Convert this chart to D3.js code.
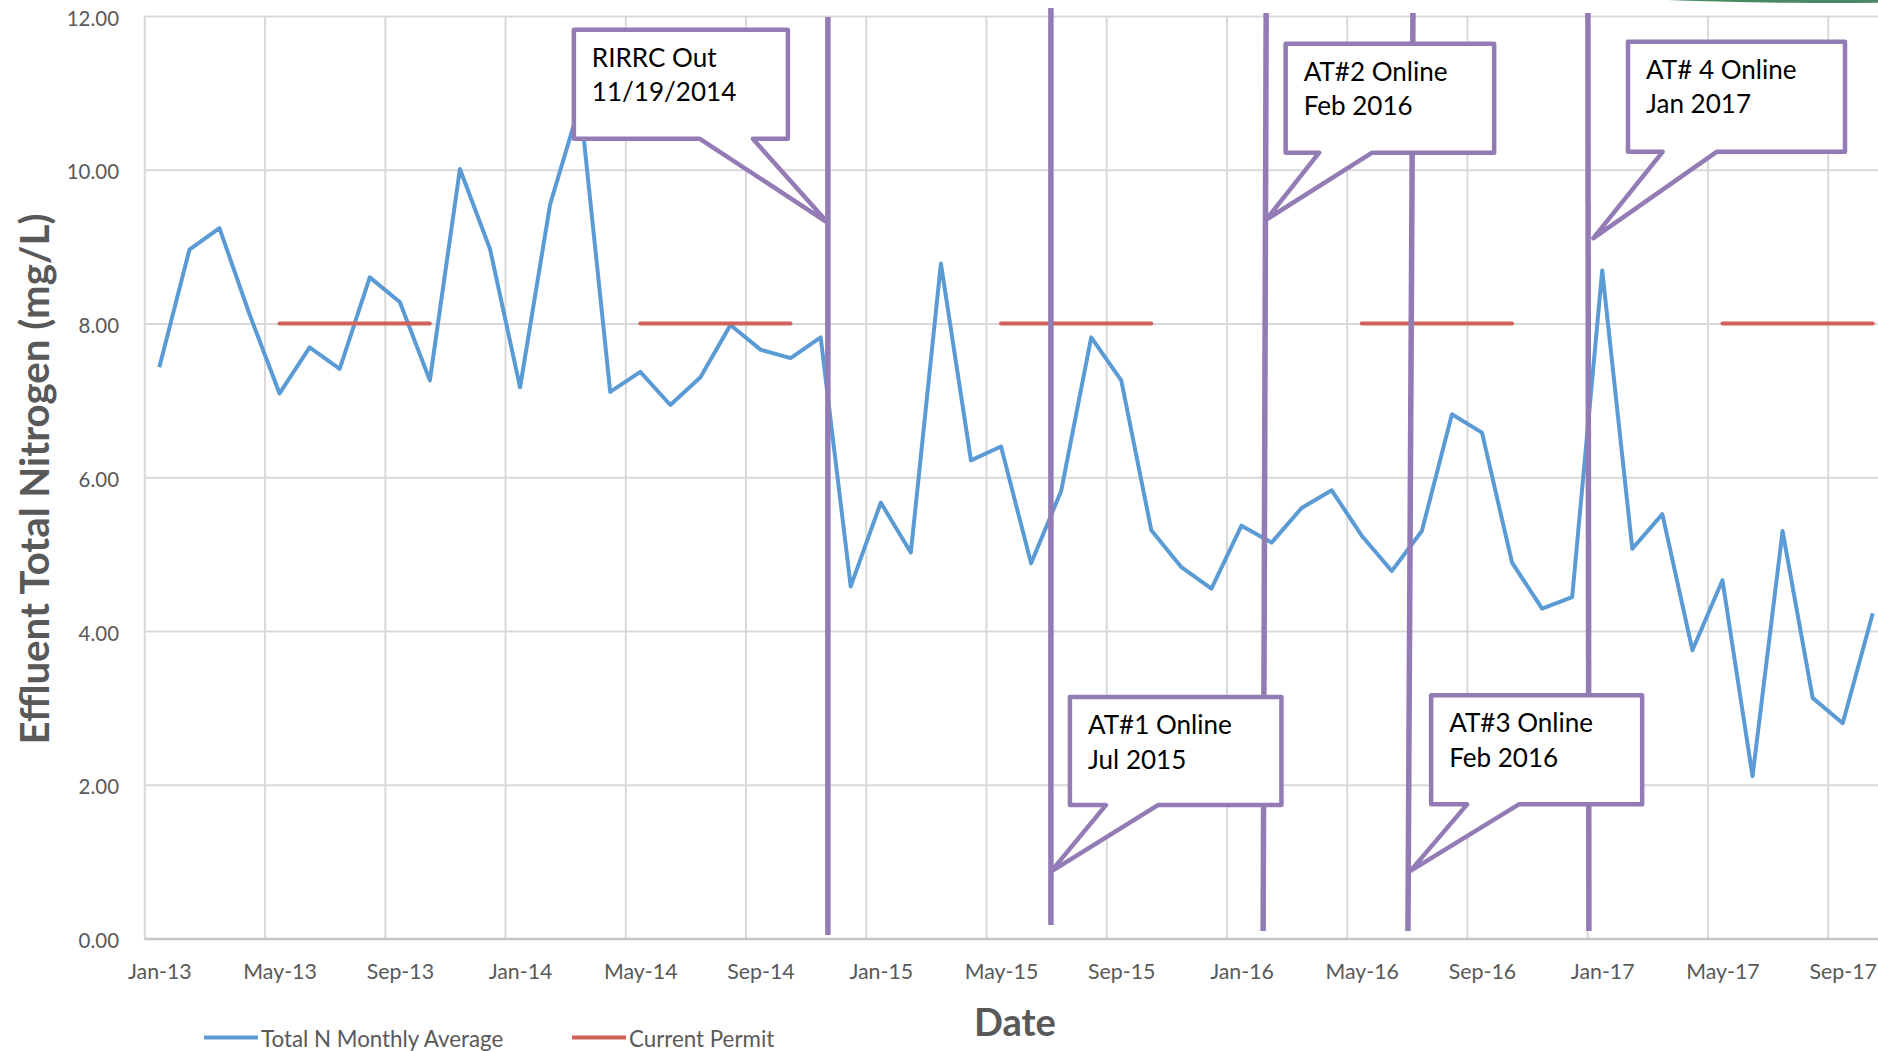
<!DOCTYPE html>
<html>
<head>
<meta charset="utf-8">
<script src="https://cdn.jsdelivr.net/npm/d3@7"></script>
<style>
  html, body { margin: 0; padding: 0; background: #ffffff; }
  svg { display: block; }
</style>
</head>
<body>
<svg id="chart" width="1878" height="1051"></svg>
<script>
// ---- data -------------------------------------------------------------
const months = [
  "Jan-13","Feb-13","Mar-13","Apr-13","May-13","Jun-13","Jul-13","Aug-13","Sep-13","Oct-13","Nov-13","Dec-13",
  "Jan-14","Feb-14","Mar-14","Apr-14","May-14","Jun-14","Jul-14","Aug-14","Sep-14","Oct-14","Nov-14","Dec-14",
  "Jan-15","Feb-15","Mar-15","Apr-15","May-15","Jun-15","Jul-15","Aug-15","Sep-15","Oct-15","Nov-15","Dec-15",
  "Jan-16","Feb-16","Mar-16","Apr-16","May-16","Jun-16","Jul-16","Aug-16","Sep-16","Oct-16","Nov-16","Dec-16",
  "Jan-17","Feb-17","Mar-17","Apr-17","May-17","Jun-17","Jul-17","Aug-17","Sep-17","Oct-17"
];

// Total N monthly average (mg/L)
const totalN = [
  7.43, 8.96, 9.24, 8.12, 7.09, 7.69, 7.41, 8.60, 8.28, 7.26, 10.01, 8.97,
  7.17, 9.55, 10.86, 7.11, 7.37, 6.94, 7.30, 7.98, 7.66, 7.55, 7.82, 4.58,
  5.67, 5.02, 8.78, 6.22, 6.40, 4.88, 5.82, 7.82, 7.26, 5.31, 4.83, 4.55,
  5.37, 5.15, 5.60, 5.83, 5.24, 4.78, 5.30, 6.82, 6.58, 4.89, 4.29, 4.44,
  8.69, 5.07, 5.52, 3.75, 4.66, 2.11, 5.30, 3.13, 2.80, 4.23
];

// Current permit limit (May - October)
const permit = [
  null, null, null, null, 8, 8, 8, 8, 8, 8, null, null,
  null, null, null, null, 8, 8, 8, 8, 8, 8, null, null,
  null, null, null, null, 8, 8, 8, 8, 8, 8, null, null,
  null, null, null, null, 8, 8, 8, 8, 8, 8, null, null,
  null, null, null, null, 8, 8, 8, 8, 8, 8
];

const seriesNames = ["Total N Monthly Average", "Current Permit"];

const xTickIndex  = [0, 4, 8, 12, 16, 20, 24, 28, 32, 36, 40, 44, 48, 52, 56];
const xTickLabels = ["Jan-13","May-13","Sep-13","Jan-14","May-14","Sep-14","Jan-15",
                     "May-15","Sep-15","Jan-16","May-16","Sep-16","Jan-17","May-17","Sep-17"];
const yTicks = [0, 2, 4, 6, 8, 10, 12];

// Milestones: position in months from Jan-13, and the value the callout points at
const eventLabels = [
  ["RIRRC Out", "11/19/2014"],
  ["AT#1 Online", "Jul 2015"],
  ["AT#2 Online", "Feb 2016"],
  ["AT#3 Online", "Feb 2016"],
  ["AT# 4 Online", "Jan 2017"]
];
const eventMonth   = [22.24, 29.66, 36.77, 41.62, 47.54];
const eventPointer = [9.31, 0.87, 9.35, 0.88, 9.11];

// ---- layout -----------------------------------------------------------
const W = 1878, H = 1051;
const plotLeft = 144.3, plotRight = 1887.8;   // last month bin runs past the edge
const plotTop = 16, plotBottom = 938.5;

const C = {
  blue: "#5b9bd5",
  red: "#d0625a",
  purple: "#937bb5",
  grid: "#d9d9d9",
  axis: "#c6c6c6",
  text: "#595959"
};
const FONT = "Lato, 'Open Sans', sans-serif";

// callout geometry relative to its pointer tip (pixels)
const calloutLayout = [
  { lineTop: 17, lineBottom: 935, lean: 0,  tipDx: 0,   left: -254, right: -40,   top: -193,   bottom: -84,   base: [-128, -75] },
  { lineTop: 8,  lineBottom: 925, lean: 0,  tipDx: 0,   left: 19,   right: 230.5, top: -174.5, bottom: -66.5, base: [55, 107] },
  { lineTop: 13, lineBottom: 931, lean: -3, tipDx: 1.5, left: 19.5, right: 228,   top: -176,   bottom: -67,   base: [53, 106] },
  { lineTop: 13, lineBottom: 931, lean: -5, tipDx: 0,   left: 20.7, right: 231.7, top: -175.5, bottom: -66.5, base: [56.7, 108.4] },
  { lineTop: 13, lineBottom: 931, lean: 1,  tipDx: 5,   left: 34.6, right: 251.6, top: -196.3, bottom: -86.3, base: [69.2, 123.2] }
];

const svg = d3.select("#chart");
svg.append("rect").attr("width", W).attr("height", H).attr("fill", "#ffffff");

// font size that makes a string reach a given width
function fitSize(str, weight, target) {
  const t = svg.append("text").attr("font-family", FONT).attr("font-weight", weight)
    .attr("font-size", 100).text(str);
  const w = t.node().getComputedTextLength();
  t.remove();
  return 100 * target / w;
}

const x = d3.scaleLinear().domain([-0.5, 57.5]).range([plotLeft, plotRight]);
const y = d3.scaleLinear().domain([0, 12]).range([plotBottom, plotTop]);

// ---- grid ---------------------------------------------------------------
const binEdges = d3.range(-0.5, 57.5, 4);
const vGrid = svg.append("g").attr("transform", `translate(0,${plotBottom})`)
  .call(d3.axisBottom(x).tickValues(binEdges).tickSize(-(plotBottom - plotTop)).tickFormat(""));
vGrid.select(".domain").remove();
vGrid.selectAll(".tick line").attr("stroke", C.grid).attr("stroke-width", 2);

const tickSize = fitSize("12.00", 400, 52.3);
const yAxis = svg.append("g").attr("transform", `translate(${plotLeft},0)`)
  .call(d3.axisLeft(y).tickValues(yTicks).tickFormat(d3.format(".2f"))
    .tickSize(-(W - plotLeft)).tickPadding(25.3));
yAxis.select(".domain").remove();
yAxis.selectAll(".tick line").attr("stroke", d => d === 0 ? C.axis : C.grid)
  .attr("stroke-width", d => d === 0 ? 2.5 : 2);
yAxis.selectAll(".tick text").attr("fill", C.text).attr("font-family", FONT)
  .attr("font-size", tickSize).attr("dy", null).attr("y", 9);

const xTickSize = fitSize("Jan-13", 400, 63.8);
const xAxis = svg.append("g").attr("transform", `translate(0,${plotBottom})`)
  .call(d3.axisBottom(x).tickValues(xTickIndex).tickSize(0)
    .tickFormat((d, i) => xTickLabels[i]));
xAxis.select(".domain").remove();
xAxis.selectAll(".tick text").attr("fill", C.text).attr("font-family", FONT)
  .attr("font-size", xTickSize).attr("dy", null).attr("y", 40.5);

// ---- series -------------------------------------------------------------
const line = d3.line().x((d, i) => x(i)).y(d => y(d)).defined(d => d != null);

svg.append("path").datum(totalN).attr("d", line)
  .attr("fill", "none").attr("stroke", C.blue).attr("stroke-width", 4)
  .attr("stroke-linejoin", "round");

svg.append("path").datum(permit).attr("d", line)
  .attr("fill", "none").attr("stroke", C.red).attr("stroke-width", 4)
  .attr("stroke-linecap", "round");

// ---- milestone markers and callouts ----------------------------------------
const calloutSize = fitSize("AT#1 Online", 400, 144);
const marks = svg.append("g");
eventMonth.forEach((m, k) => {
  const L = calloutLayout[k];
  const cx = x(m);
  marks.append("line")
    .attr("x1", cx - L.lean / 2).attr("y1", L.lineTop)
    .attr("x2", cx + L.lean / 2).attr("y2", L.lineBottom)
    .attr("stroke", C.purple).attr("stroke-width", 5.5);
});

eventMonth.forEach((m, k) => {
  const L = calloutLayout[k];
  const tx = x(m) + L.tipDx, ty = y(eventPointer[k]);
  const l = tx + L.left, r = tx + L.right, t = ty + L.top, b = ty + L.bottom;
  const b1 = tx + Math.min(...L.base), b2 = tx + Math.max(...L.base);
  const p = d3.path();
  p.moveTo(l, t); p.lineTo(r, t); p.lineTo(r, b); p.lineTo(b2, b);
  p.lineTo(tx, ty); p.lineTo(b1, b); p.lineTo(l, b); p.closePath();
  marks.append("path").attr("d", p.toString())
    .attr("fill", "#ffffff").attr("stroke", C.purple).attr("stroke-width", 4.5)
    .attr("stroke-linejoin", "round");
  const txt = marks.append("text").attr("font-family", FONT).attr("font-size", calloutSize)
    .attr("fill", "#000000");
  eventLabels[k].forEach((s, j) => {
    txt.append("tspan").attr("x", l + 18).attr("y", t + 37 + j * 34.5).text(s);
  });
});

// ---- axis titles ------------------------------------------------------------
const yTitle = "Effluent Total Nitrogen (mg/L)";
svg.append("text")
  .attr("transform", `translate(48.5,479) rotate(-90)`)
  .attr("text-anchor", "middle").attr("font-family", FONT).attr("font-weight", 700)
  .attr("font-size", fitSize(yTitle, 700, 531)).attr("fill", C.text).text(yTitle);

svg.append("text").attr("x", 1015).attr("y", 1036)
  .attr("text-anchor", "middle").attr("font-family", FONT).attr("font-weight", 700)
  .attr("font-size", fitSize("Date", 700, 82)).attr("fill", C.text).text("Date");

// ---- legend -------------------------------------------------------------------
const legendSize = fitSize(seriesNames[0], 400, 242.5);
const legendItems = [
  { name: seriesNames[0], color: C.blue, x0: 204 },
  { name: seriesNames[1], color: C.red,  x0: 572 }
];
legendItems.forEach(it => {
  svg.append("line").attr("x1", it.x0).attr("x2", it.x0 + 54)
    .attr("y1", 1037.5).attr("y2", 1037.5)
    .attr("stroke", it.color).attr("stroke-width", 4);
  svg.append("text").attr("x", it.x0 + 57).attr("y", 1047)
    .attr("font-family", FONT).attr("font-size", legendSize)
    .attr("fill", C.text).text(it.name);
});

// sliver of a green badge along the top edge
svg.append("ellipse").attr("cx", 1835).attr("cy", -37).attr("rx", 440).attr("ry", 40)
  .attr("fill", "#4a8a63");
</script>
</body>
</html>
